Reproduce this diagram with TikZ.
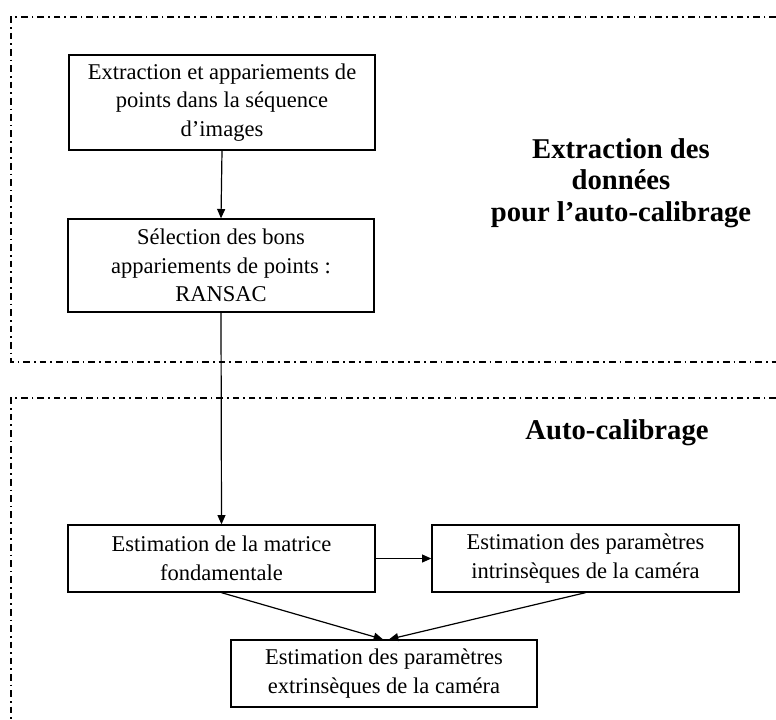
\documentclass[tikz,border=0pt]{standalone}
\usepackage{fontspec}
\setmainfont{Liberation Serif}
\usetikzlibrary{calc,arrows.meta}
\begin{document}
\begin{tikzpicture}[x=0.75pt,y=-0.75pt,
  stepbox/.style={draw,line width=1pt,align=center,inner sep=0pt,
    font=\fontsize{16.9}{21.5}\selectfont},
  frame/.style={line width=0.8pt,dash pattern=on 5pt off 3pt on 1.2pt off 3pt},
  arr/.style={line width=0.9pt,-{Triangle[length=7pt,width=6pt]}},
  lbl/.style={align=center,font=\fontsize{21.5}{23.5}\selectfont\bfseries}]
\useasboundingbox (0,0) rectangle (776,719);
% frames
\coordinate (f1a) at (776,17);
\coordinate (f1b) at (11,17);
\coordinate (f1c) at (11,362);
\coordinate (f1d) at (776,362);
\draw[frame] (f1a) -- (f1b) -- (f1c) -- (f1d);
\coordinate (f2a) at (776,398);
\coordinate (f2b) at (11,398);
\coordinate (f2c) at (11,719);
\draw[frame] (f2a) -- (f2b) -- (f2c);
% boxes
\node[stepbox,minimum width=306*0.75pt,minimum height=95*0.75pt] (b1) at (222,102.5)
  {Extraction et appariements de\\points dans la séquence\\d’images};
\node[stepbox,minimum width=306*0.75pt,minimum height=93*0.75pt] (b2) at (221,265.5)
  {Sélection des bons\\appariements de points :\\RANSAC};
\node[stepbox,minimum width=307*0.75pt,minimum height=67*0.75pt] (b3) at (221.5,558.5)
  {Estimation de la matrice\\fondamentale};
\node[stepbox,minimum width=307*0.75pt,minimum height=67*0.75pt] (b4) at (585.5,558.5)
  {Estimation des paramètres\\intrinsèques de la caméra};
\node[stepbox,minimum width=306*0.75pt,minimum height=67*0.75pt] (b5) at (384,673.5)
  {Estimation des paramètres\\extrinsèques de la caméra};
% labels
\node[lbl] (l1) at (621,183) {Extraction des\\données\\pour l’auto-calibrage};
\node[lbl] (l2) at (617,433) {Auto-calibrage};
% connectors
\draw[arr] (b1.south) -- (b2.north);
\draw[arr] (b2.south) -- (b3.north);
\draw[arr] (b3.east) -- (b4.west);
\draw[arr] (b3.south) -- ($(b5.north)+(-1,0)$);
\draw[arr] (b4.south) -- ($(b5.north)+(5,0)$);
\end{tikzpicture}
\end{document}
